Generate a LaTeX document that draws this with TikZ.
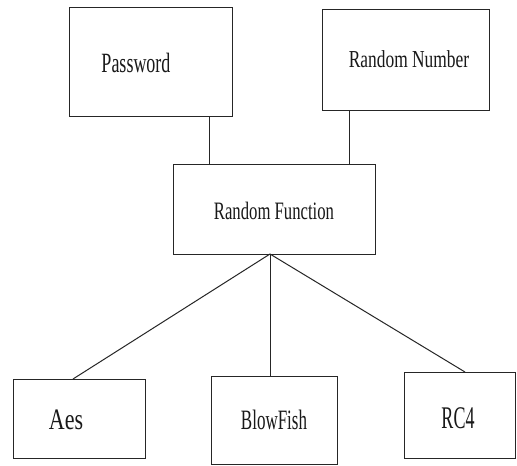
\documentclass[tikz,border=0pt]{standalone}
\usepackage{fontspec}
\usepackage{graphicx}
\setmainfont{Liberation Serif}
\usetikzlibrary{calc}

% tall, narrow label text: font size, vertical stretch, text
\newcommand{\tallword}[3]{\fontsize{#1}{#1}\selectfont\scalebox{1}[#2]{#3}}

\begin{document}
\begin{tikzpicture}[x=1pt,y=-1pt,
  box/.style={draw=black!85, line width=1.2pt, inner sep=0pt, anchor=north west},
  lbl/.style={inner sep=0pt, text=black!90},
  link/.style={draw=black!85, line width=1pt}]
  \useasboundingbox (0,0) rectangle (517,466);
  \fill[white] (0,0) rectangle (517,466);

  % boxes
  \node[box, minimum width=163pt, minimum height=109pt] (pw)  at (69,7)   {};
  \node[box, minimum width=167pt, minimum height=101pt] (rn)  at (322,9)  {};
  \node[box, minimum width=202pt, minimum height=90pt]  (rf)  at (173,164) {};
  \node[box, minimum width=132pt, minimum height=79pt]  (aes) at (13,379) {};
  \node[box, minimum width=126pt, minimum height=88pt]  (bf)  at (211,376) {};
  \node[box, minimum width=111pt, minimum height=86pt]  (rc)  at (404,372) {};

  % labels
  \node[lbl] (pwt)  at (136,63)  {\tallword{18}{1.55}{Password}};
  \node[lbl] (rnt)  at (409,59)  {\tallword{17.4}{1.4}{Random Number}};
  \node[lbl] (rft)  at (274,211) {\tallword{16.7}{1.5}{Random Function}};
  \node[lbl] (aest) at (66,420)  {\tallword{22}{1.35}{Aes}};
  \node[lbl] (bft)  at (274,420) {\tallword{17}{1.65}{BlowFish}};
  \node[lbl] (rct)  at (458,418) {\tallword{18}{1.75}{RC4}};

  % attachment points
  \coordinate (xpw) at (209,0);
  \coordinate (xrn) at (349,0);
  \coordinate (apex) at (270,254);
  \coordinate (aesin) at (73,379);
  \coordinate (bfin) at (270,376);
  \coordinate (rcin) at (465,372);

  % connectors
  \draw[link] (pw.south -| xpw) -- (rf.north -| xpw);
  \draw[link] (rn.south -| xrn) -- (rf.north -| xrn);
  \draw[link] (apex) -- (aesin);
  \draw[link] (apex) -- (bfin);
  \draw[link] (apex) -- (rcin);
\end{tikzpicture}
\end{document}
